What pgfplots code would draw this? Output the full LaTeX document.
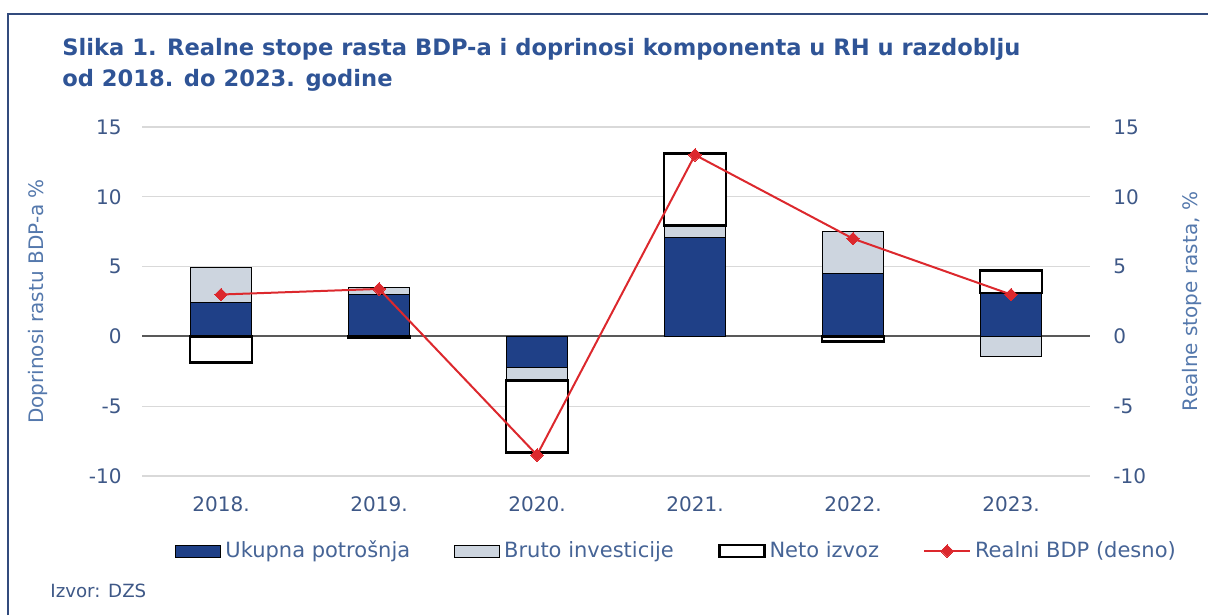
\documentclass[border=0pt]{standalone}
\usepackage{fontspec}
\setmainfont{DejaVu Sans}
\usepackage{pgfplots}
\pgfplotsset{compat=1.18}
\definecolor{titleblue}{RGB}{47,84,150}
\definecolor{tickcol}{RGB}{62,88,135}
\definecolor{labcol}{RGB}{84,120,172}
\definecolor{legcol}{RGB}{70,100,150}
\definecolor{framecol}{RGB}{50,75,125}
\definecolor{ukupna}{RGB}{31,64,135}
\definecolor{bruto}{RGB}{205,213,223}
\definecolor{bdpred}{RGB}{220,40,45}
\definecolor{gridcol}{RGB}{217,217,217}
\definecolor{zerocol}{RGB}{89,89,89}
\pgfplotsset{
  barleg/.style={legend image code/.code={\draw[##1] (0pt,-3pt) rectangle (22.5pt,3pt);}},
  lineleg/.style={legend image code/.code={\draw[##1, mark repeat=2, mark phase=2] plot coordinates {(0pt,0pt) (11.5pt,0pt) (23pt,0pt)};}},
}
\begin{document}
\begin{tikzpicture}
\useasboundingbox (0,0) rectangle (604pt,307.5pt);
\draw[framecol, line width=1pt] (4pt,0pt) -- (4pt,300.5pt) -- (604pt,300.5pt);
\node[anchor=base west, inner sep=0pt, text=titleblue, font=\bfseries\fontsize{11.3}{14}\selectfont] at (31pt,279.5pt) {Slika 1. Realne stope rasta BDP-a i doprinosi komponenta u RH u razdoblju};
\node[anchor=base west, inner sep=0pt, text=titleblue, font=\bfseries\fontsize{11.3}{14}\selectfont] at (31pt,264pt) {od 2018. do 2023. godine};
\node[anchor=base west, inner sep=0pt, text=tickcol, font=\fontsize{9.1}{11}\selectfont] at (25pt,9pt) {Izvor: DZS};

\begin{axis}[
  at={(71pt,69.5pt)}, anchor=south west, scale only axis,
  width=474pt, height=174.5pt,
  xmin=-0.5, xmax=5.5, ymin=-10, ymax=15,
  ytick={-10,-5,0,5,10,15},
  xtick={0,1,2,3,4,5},
  xticklabels={2018.,2019.,2020.,2021.,2022.,2023.},
  axis line style={draw=none},
  major tick length=0pt,
  ymajorgrids, grid style={draw=gridcol, line width=0.6pt},
  extra y ticks={0}, extra y tick labels={},
  extra y tick style={grid style={draw=zerocol, line width=1pt}},
  /pgf/number format/assume math mode=true,
  yticklabel style={anchor=east, inner sep=0pt, xshift=-10pt, text=tickcol, font=\fontsize{10}{12}\selectfont},
  xticklabel style={anchor=north, inner sep=0pt, yshift=-10pt, text=tickcol, font=\fontsize{10}{12}\selectfont},
  ylabel={Doprinosi rastu BDP-a \%},
  every axis y label/.style={at={(axis description cs:-0.1097,0.5)}, rotate=90, anchor=center, text=labcol, font=\fontsize{10}{12}\selectfont},
  unbounded coords=jump,
  legend columns=4,
  legend style={at={(axis description cs:0.0348,-0.2149)}, anchor=west, draw=none, fill=none, inner sep=0pt,
    font=\fontsize{10.5}{12}\selectfont, text=legcol,
    /tikz/every odd column/.append style={column sep=0pt},
    /tikz/every even column/.append style={column sep=20pt}},
]
% Ukupna potrosnja
\addplot[fill=ukupna, draw=black, line width=0.5pt, line cap=rect, barleg] coordinates {
(-0.195,0) (0.195,0) (0.195,2.4) (-0.195,2.4) (-0.195,0) (0,nan)
(0.805,0) (1.195,0) (1.195,3.0) (0.805,3.0) (0.805,0) (1,nan)
(1.805,0) (2.195,0) (2.195,-2.2) (1.805,-2.2) (1.805,0) (2,nan)
(2.805,0) (3.195,0) (3.195,7.1) (2.805,7.1) (2.805,0) (3,nan)
(3.805,0) (4.195,0) (4.195,4.5) (3.805,4.5) (3.805,0) (4,nan)
(4.805,0) (5.195,0) (5.195,3.1) (4.805,3.1) (4.805,0)
};
\addlegendentry{Ukupna potrošnja}
% Bruto investicije
\addplot[fill=bruto, draw=black, line width=0.5pt, line cap=rect, barleg] coordinates {
(-0.195,2.4) (0.195,2.4) (0.195,4.9) (-0.195,4.9) (-0.195,2.4) (0,nan)
(0.805,3.0) (1.195,3.0) (1.195,3.5) (0.805,3.5) (0.805,3.0) (1,nan)
(1.805,-2.2) (2.195,-2.2) (2.195,-3.15) (1.805,-3.15) (1.805,-2.2) (2,nan)
(2.805,7.1) (3.195,7.1) (3.195,7.95) (2.805,7.95) (2.805,7.1) (3,nan)
(3.805,4.5) (4.195,4.5) (4.195,7.5) (3.805,7.5) (3.805,4.5) (4,nan)
(4.805,0) (5.195,0) (5.195,-1.45) (4.805,-1.45) (4.805,0)
};
\addlegendentry{Bruto investicije}
% Neto izvoz
\addplot[fill=white, draw=black, line width=1.3pt, line cap=rect, barleg] coordinates {
(-0.195,0) (0.195,0) (0.195,-1.85) (-0.195,-1.85) (-0.195,0) (0,nan)
(0.805,0) (1.195,0) (1.195,-0.1) (0.805,-0.1) (0.805,0) (1,nan)
(1.805,-3.15) (2.195,-3.15) (2.195,-8.3) (1.805,-8.3) (1.805,-3.15) (2,nan)
(2.805,7.95) (3.195,7.95) (3.195,13.1) (2.805,13.1) (2.805,7.95) (3,nan)
(3.805,0) (4.195,0) (4.195,-0.35) (3.805,-0.35) (3.805,0) (4,nan)
(4.805,3.1) (5.195,3.1) (5.195,4.7) (4.805,4.7) (4.805,3.1)
};
\addlegendentry{Neto izvoz}
% Realni BDP
\addplot[draw=bdpred, line width=1pt, mark=square*, mark size=2.2pt,
  mark options={rotate=45, fill=bdpred, draw=bdpred, line width=0pt}, lineleg] coordinates {
(0,3.0) (1,3.4) (2,-8.5) (3,13.0) (4,7.0) (5,3.0)
};
\addlegendentry{Realni BDP (desno)}
\end{axis}

\begin{axis}[
  at={(71pt,69.5pt)}, anchor=south west, scale only axis,
  width=474pt, height=174.5pt,
  xmin=-0.5, xmax=5.5, ymin=-10, ymax=15,
  ytick={-10,-5,0,5,10,15},
  axis y line*=right, axis x line=none,
  axis line style={draw=none},
  major tick length=0pt,
  /pgf/number format/assume math mode=true,
  yticklabel style={anchor=west, inner sep=0pt, xshift=11.5pt, text=tickcol, font=\fontsize{10}{12}\selectfont},
  ylabel={Realne stope rasta, \%},
  every axis y label/.style={at={(axis description cs:1.1076,0.5)}, rotate=90, anchor=center, text=labcol, font=\fontsize{10}{12}\selectfont},
]
\addplot[draw=none, forget plot] coordinates {(0,0)};
\end{axis}
\end{tikzpicture}
\end{document}
